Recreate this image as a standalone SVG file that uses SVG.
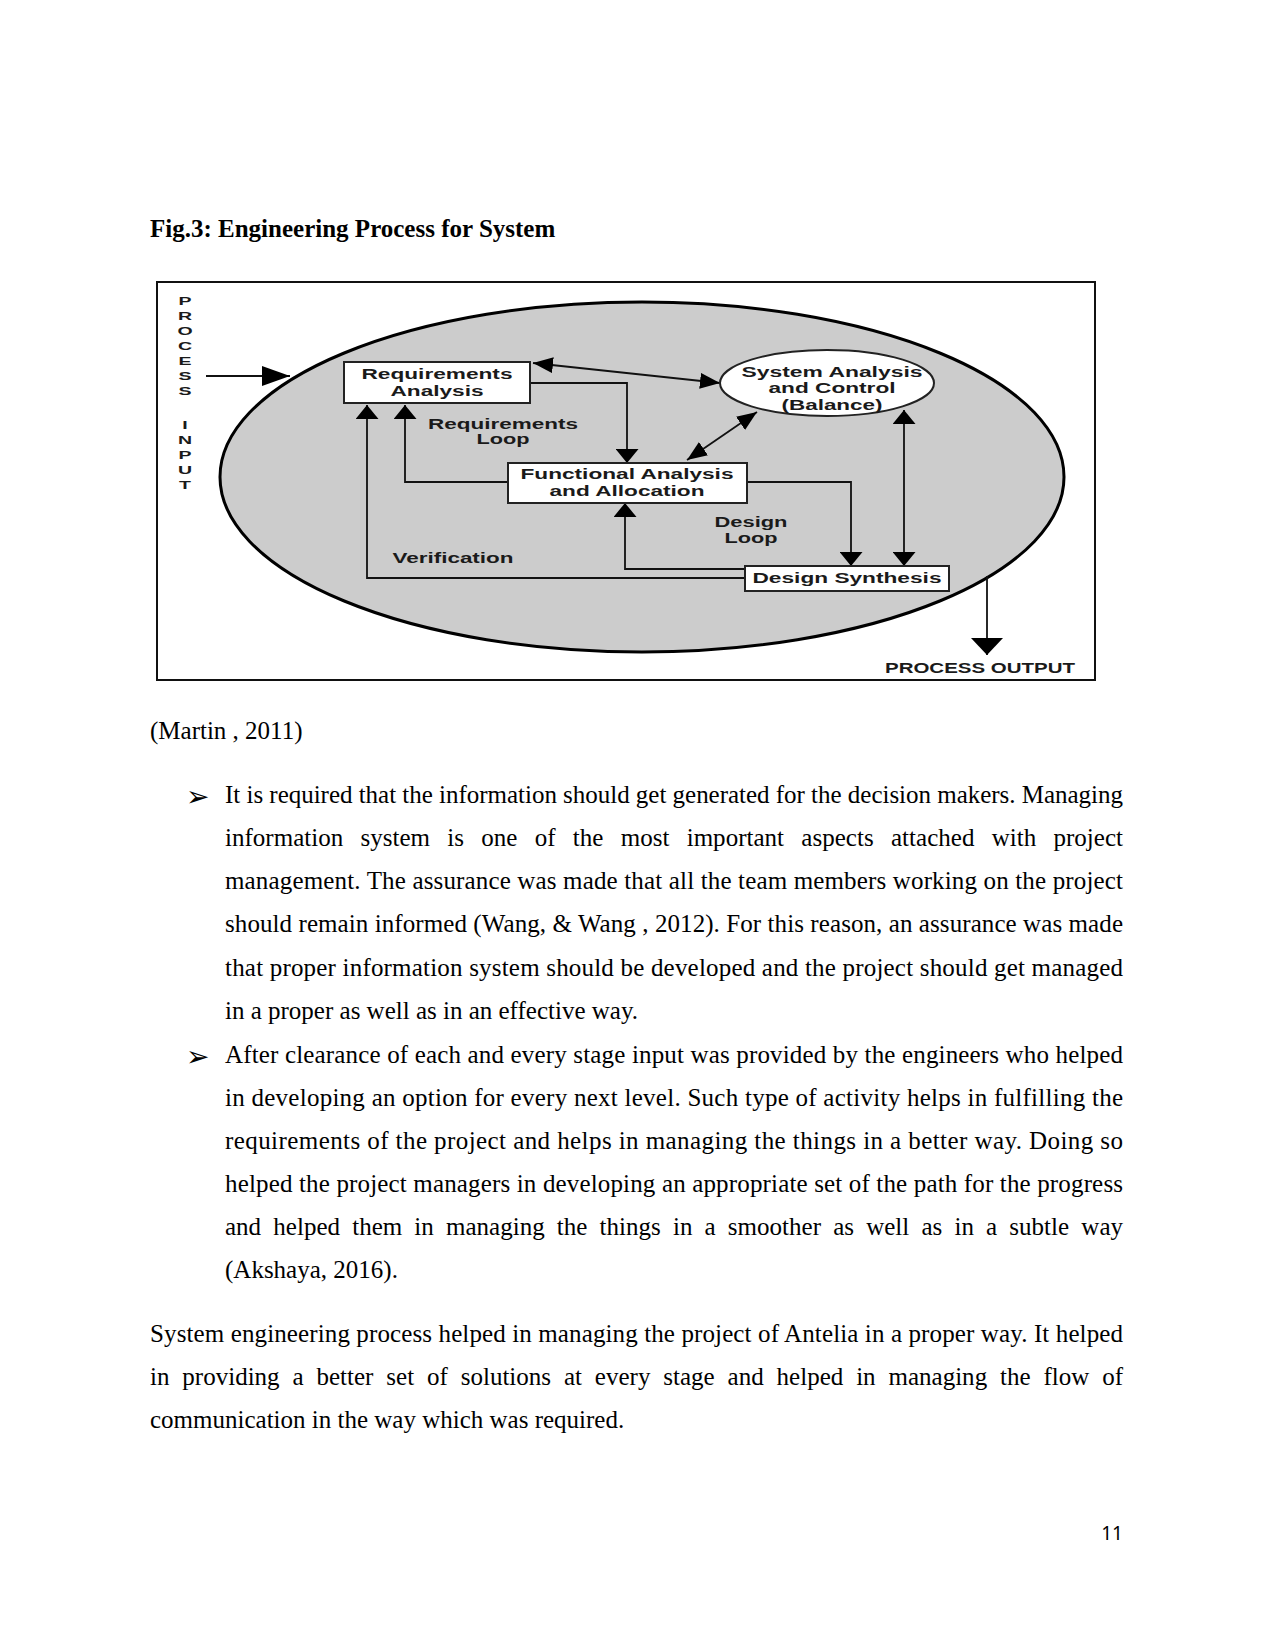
<svg xmlns="http://www.w3.org/2000/svg" width="1275" height="1650" viewBox="0 0 1275 1650">
<defs>
<style>
.dt{font-family:"Liberation Sans",Arial,sans-serif;font-weight:bold;font-size:14px;fill:#1a1a1a;text-anchor:middle}
.vt{font-family:"Liberation Sans",Arial,sans-serif;font-weight:bold;font-size:11.5px;fill:#1a1a1a;text-anchor:middle}
.box{fill:#fff;stroke:#222;stroke-width:2}
.ln{fill:none;stroke:#111;stroke-width:1.8}
.bt{font-family:"Liberation Serif","Times New Roman",serif;font-size:25px;fill:#000}
.bul{font-family:"DejaVu Sans",sans-serif;font-size:28px;fill:#000}
</style>
<marker id="ah" viewBox="0 0 14 23" refX="14" refY="11.5" markerWidth="14" markerHeight="23" markerUnits="userSpaceOnUse" orient="auto-start-reverse"><path d="M0,0 L14,11.5 L0,23 z" fill="#000"/></marker>
<marker id="ahd" viewBox="0 0 20 16" refX="20" refY="8" markerWidth="20" markerHeight="16" markerUnits="userSpaceOnUse" orient="auto-start-reverse"><path d="M0,0 L20,8 L0,16 z" fill="#000"/></marker>
<marker id="ahin" viewBox="0 0 28 20" refX="28" refY="10" markerWidth="28" markerHeight="20" markerUnits="userSpaceOnUse" orient="auto"><path d="M0,0 L28,10 L0,20 z" fill="#000"/></marker>
<marker id="ahout" viewBox="0 0 17 32" refX="17" refY="16" markerWidth="17" markerHeight="32" markerUnits="userSpaceOnUse" orient="auto"><path d="M0,0 L17,16 L0,32 z" fill="#000"/></marker>
</defs>
<rect width="1275" height="1650" fill="#fff"/>

<text class="bt" x="150" y="237" font-weight="bold">Fig.3: Engineering Process for System</text>

<g id="figure">
<rect x="157" y="282" width="938" height="398" fill="#fff" stroke="#111" stroke-width="2"/>
<ellipse id="process-ellipse" cx="642" cy="477" rx="422" ry="175" fill="#cccccc" stroke="#000" stroke-width="3"/>

<g id="process-input-label" transform="translate(185,0) scale(1.7,1)">
<text class="vt" x="0" y="305">P</text>
<text class="vt" x="0" y="320">R</text>
<text class="vt" x="0" y="335">O</text>
<text class="vt" x="0" y="350">C</text>
<text class="vt" x="0" y="365">E</text>
<text class="vt" x="0" y="380">S</text>
<text class="vt" x="0" y="395">S</text>
<text class="vt" x="0" y="429">I</text>
<text class="vt" x="0" y="444">N</text>
<text class="vt" x="0" y="459">P</text>
<text class="vt" x="0" y="474">U</text>
<text class="vt" x="0" y="489">T</text>
</g>

<g id="connectors">
<path class="ln" d="M206,376 H290" stroke-width="2.2" marker-end="url(#ahin)"/>
<path class="ln" d="M530,383 H627 V463" marker-end="url(#ah)"/>
<path class="ln" d="M508,482 H405 V405" marker-end="url(#ah)"/>
<path class="ln" d="M745,578 H367 V405" marker-end="url(#ah)"/>
<path class="ln" d="M745,569 H625 V503" marker-end="url(#ah)"/>
<path class="ln" d="M747,482 H851 V566" marker-end="url(#ah)"/>
<path class="ln" d="M904,410 V566" marker-start="url(#ah)" marker-end="url(#ah)"/>
<path class="ln" d="M533,363 L720,383" stroke-width="1.5" marker-start="url(#ahd)" marker-end="url(#ahd)"/>
<path class="ln" d="M687,460 L757,412" stroke-width="1.5" marker-start="url(#ahd)" marker-end="url(#ahd)"/>
<path class="ln" d="M987,576 V655" stroke-width="4.5" marker-end="url(#ahout)"/>
</g>

<g id="requirements-analysis">
<rect class="box" x="344" y="362" width="186" height="41"/>
<text class="dt" x="437" y="379" textLength="151" lengthAdjust="spacingAndGlyphs">Requirements</text>
<text class="dt" x="437" y="396" textLength="93" lengthAdjust="spacingAndGlyphs">Analysis</text>
</g>

<g id="system-analysis">
<ellipse cx="827" cy="383" rx="107" ry="33" fill="#fff" stroke="#222" stroke-width="2"/>
<text class="dt" x="832" y="377" textLength="181" lengthAdjust="spacingAndGlyphs">System Analysis</text>
<text class="dt" x="832" y="393" textLength="127" lengthAdjust="spacingAndGlyphs">and Control</text>
<text class="dt" x="832" y="410" textLength="101" lengthAdjust="spacingAndGlyphs">(Balance)</text>
</g>

<g id="functional-analysis">
<rect class="box" x="508" y="463" width="239" height="40"/>
<text class="dt" x="627" y="479" textLength="213" lengthAdjust="spacingAndGlyphs">Functional Analysis</text>
<text class="dt" x="627" y="496" textLength="155" lengthAdjust="spacingAndGlyphs">and Allocation</text>
</g>

<g id="design-synthesis">
<rect class="box" x="745" y="566" width="204" height="25"/>
<text class="dt" x="847" y="583" textLength="189" lengthAdjust="spacingAndGlyphs">Design Synthesis</text>
</g>

<g id="labels">
<text class="dt" x="503" y="429" textLength="150" lengthAdjust="spacingAndGlyphs">Requirements</text>
<text class="dt" x="503" y="444" textLength="53" lengthAdjust="spacingAndGlyphs">Loop</text>
<text class="dt" x="751" y="527" textLength="73" lengthAdjust="spacingAndGlyphs">Design</text>
<text class="dt" x="751" y="543" textLength="53" lengthAdjust="spacingAndGlyphs">Loop</text>
<text class="dt" x="453" y="563" textLength="121" lengthAdjust="spacingAndGlyphs">Verification</text>
<text class="dt" x="980" y="673" textLength="190" lengthAdjust="spacingAndGlyphs">PROCESS OUTPUT</text>
</g>
</g>

<g id="body">
<text class="bt" x="150" y="739">(Martin , 2011)</text>

<text class="bul" x="186" y="806">➢</text>
<text class="bt" x="225" y="803" textLength="898" lengthAdjust="spacing">It is required that the information should get generated for the decision makers. Managing</text>
<text class="bt" x="225" y="846" word-spacing="11" textLength="898" lengthAdjust="spacing">information system is one of the most important aspects attached with project</text>
<text class="bt" x="225" y="889" textLength="898" lengthAdjust="spacing">management. The assurance was made that all the team members working on the project</text>
<text class="bt" x="225" y="932" textLength="898" lengthAdjust="spacing">should remain informed (Wang, &amp; Wang , 2012). For this reason, an assurance was made</text>
<text class="bt" x="225" y="976" textLength="898" lengthAdjust="spacing">that proper information system should be developed and the project should get managed</text>
<text class="bt" x="225" y="1019">in a proper as well as in an effective way.</text>

<text class="bul" x="186" y="1066">➢</text>
<text class="bt" x="225" y="1063" textLength="898" lengthAdjust="spacing">After clearance of each and every stage input was provided by the engineers who helped</text>
<text class="bt" x="225" y="1106" textLength="898" lengthAdjust="spacing">in developing an option for every next level. Such type of activity helps in fulfilling the</text>
<text class="bt" x="225" y="1149" textLength="898" lengthAdjust="spacing">requirements of the project and helps in managing the things in a better way. Doing so</text>
<text class="bt" x="225" y="1192" textLength="898" lengthAdjust="spacing">helped the project managers in developing an appropriate set of the path for the progress</text>
<text class="bt" x="225" y="1235" word-spacing="5.9" textLength="898" lengthAdjust="spacing">and helped them in managing the things in a smoother as well as in a subtle way</text>
<text class="bt" x="225" y="1278">(Akshaya, 2016).</text>

<text class="bt" x="150" y="1342" textLength="973" lengthAdjust="spacing">System engineering process helped in managing the project of Antelia in a proper way. It helped</text>
<text class="bt" x="150" y="1385" word-spacing="6.6" textLength="973" lengthAdjust="spacing">in providing a better set of solutions at every stage and helped in managing the flow of</text>
<text class="bt" x="150" y="1428">communication in the way which was required.</text>

<text x="1123" y="1540" font-family="'Noto Sans',sans-serif" font-size="19" fill="#000" text-anchor="end">11</text>
</g>
</svg>
